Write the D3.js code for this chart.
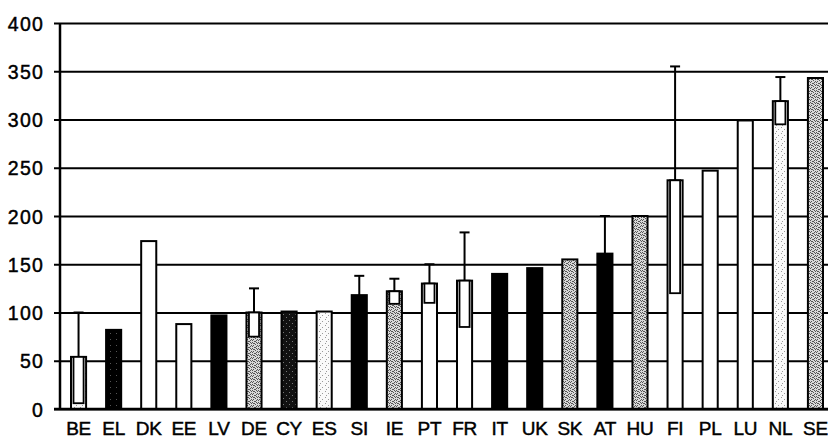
<!DOCTYPE html>
<html>
<head>
<meta charset="utf-8">
<script src="https://cdn.jsdelivr.net/npm/d3@7"></script>
<style>
  html, body { margin: 0; padding: 0; background: #fff; }
  svg { display: block; }
  text { font-family: "Liberation Sans", Arial, sans-serif; fill: #000; stroke: #000; stroke-width: 0.45px; }
</style>
</head>
<body>
<svg id="chart" width="828" height="440"></svg>
<script>
// ---- data ----
const categories = ["BE","EL","DK","EE","LV","DE","CY","ES","SI","IE","PT","FR","IT","UK","SK","AT","HU","FI","PL","LU","NL","SE"];
const values     = [54, 82, 174, 88, 97, 100, 101, 101, 118, 122, 130, 133, 140, 146, 155, 161, 200, 237, 247, 299, 319, 343];
const errMinus   = [48, 0, 0, 0, 0, 25, 0, 0, 0, 13, 20, 48, 0, 0, 0, 0, 0, 117, 0, 0, 24, 0];
const errPlus    = [46, 0, 0, 0, 0, 25, 0, 0, 20, 13, 20, 50, 0, 0, 0, 39, 0, 118, 0, 0, 25, 0];
const yTicks     = [0, 50, 100, 150, 200, 250, 300, 350, 400];

// ---- styles (fill per category) ----
const fillStyle = {
  BE: "url(#pLight)", EL: "url(#pBlack)", DK: "#fff", EE: "#fff", LV: "#000",
  DE: "url(#pGrey)", CY: "url(#pDark)", ES: "url(#pLight)", SI: "#000", IE: "url(#pGrey)",
  PT: "#fff", FR: "#fff", IT: "#000", UK: "#000", SK: "url(#pGrey)", AT: "#000",
  HU: "url(#pGrey)", FI: "#fff", PL: "#fff", LU: "#fff", NL: "url(#pLight)", SE: "url(#pGrey)"
};

const svg = d3.select("#chart");
const W = 828, H = 440;
const plot = { left: 61, right: 833, top: 23, bottom: 409 };

// patterns
const defs = svg.append("defs");
function makePattern(id, bg, fg, dots) {
  const p = defs.append("pattern").attr("id", id).attr("patternUnits", "userSpaceOnUse")
    .attr("width", 6).attr("height", 6);
  p.append("rect").attr("width", 6).attr("height", 6).attr("fill", bg);
  dots.forEach(d => p.append("rect").attr("x", d[0]).attr("y", d[1]).attr("width", 1).attr("height", 1).attr("fill", fg));
}
makePattern("pGrey", "#d8d8d8", "#555", [[0,0],[2,1],[4,0],[1,3],[3,2],[5,3],[0,4],[2,5],[4,4],[3,5],[1,1],[5,1]]);
makePattern("pLight", "#fafafa", "#999", [[1,1],[4,3],[2,5]]);
makePattern("pDark", "#111", "#777", [[1,2],[4,5]]);
makePattern("pBlack", "#000", "#555", [[2,3]]);

const x = d3.scaleBand().domain(categories).range([plot.left, plot.right]).paddingInner(0.57).paddingOuter(0.285);
const y = d3.scaleLinear().domain([0, 400]).range([plot.bottom, plot.top]);

// gridlines + ticks
const yAxis = d3.axisLeft(y).tickValues(yTicks).tickSizeInner(-(W - plot.left + 7)).tickSizeOuter(0).tickPadding(0);
const gy = svg.append("g").attr("transform", `translate(${plot.left},0)`).call(yAxis);
gy.select(".domain").remove();
gy.selectAll(".tick line").attr("x1", -7).attr("x2", W - plot.left).attr("stroke", "#000").attr("stroke-width", 2);
gy.selectAll(".tick text").attr("x", -17).attr("font-size", 19.5).attr("letter-spacing", 1.2).attr("dy", "0.36em");

// y axis line
svg.append("line").attr("x1", plot.left - 1).attr("x2", plot.left - 1).attr("y1", plot.top).attr("y2", plot.bottom + 1)
  .attr("stroke", "#000").attr("stroke-width", 2.5);

// bars
const bw = x.bandwidth();
const data = categories.map((c, i) => ({ c, v: values[i], lo: errMinus[i], hi: errPlus[i] }));
const g = svg.append("g");
g.selectAll("rect.bar").data(data).join("rect").attr("class", "bar")
  .attr("x", d => x(d.c)).attr("y", d => y(d.v))
  .attr("width", bw).attr("height", d => y(0) - y(d.v))
  .attr("fill", d => fillStyle[d.c]).attr("stroke", "#000").attr("stroke-width", 2);

// lower error as box
g.selectAll("rect.errbox").data(data.filter(d => d.lo > 0)).join("rect").attr("class", "errbox")
  .attr("x", d => x(d.c) + 2.5).attr("y", d => y(d.v))
  .attr("width", bw - 5).attr("height", d => y(d.v - d.lo) - y(d.v))
  .attr("fill", "#fff").attr("stroke", "#000").attr("stroke-width", 1.8);

// upper whisker
const up = data.filter(d => d.hi > 0);
g.selectAll("line.whisk").data(up).join("line").attr("class", "whisk")
  .attr("x1", d => x(d.c) + bw / 2).attr("x2", d => x(d.c) + bw / 2)
  .attr("y1", d => y(d.v)).attr("y2", d => y(d.v + d.hi))
  .attr("stroke", "#000").attr("stroke-width", 2);
g.selectAll("line.cap").data(up).join("line").attr("class", "cap")
  .attr("x1", d => x(d.c) + bw / 2 - 5).attr("x2", d => x(d.c) + bw / 2 + 5)
  .attr("y1", d => y(d.v + d.hi)).attr("y2", d => y(d.v + d.hi))
  .attr("stroke", "#000").attr("stroke-width", 2);

// baseline
svg.append("line").attr("x1", plot.left - 7).attr("x2", W).attr("y1", y(0)).attr("y2", y(0))
  .attr("stroke", "#000").attr("stroke-width", 2.5);

// x labels
const xAxis = d3.axisBottom(x).tickSize(0).tickPadding(0);
const gx = svg.append("g").attr("transform", `translate(0,${plot.bottom})`).call(xAxis);
gx.select(".domain").remove();
gx.selectAll(".tick text").attr("y", 26).attr("dy", 0).attr("font-size", 19).attr("letter-spacing", -0.3);
</script>
</body>
</html>
